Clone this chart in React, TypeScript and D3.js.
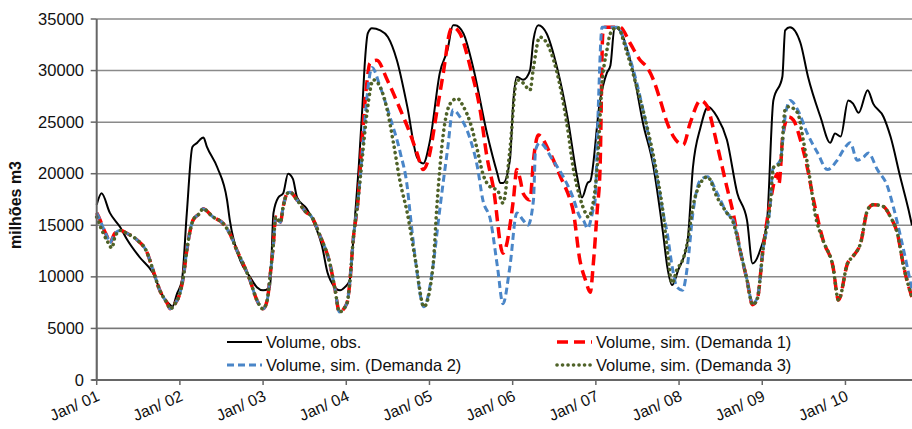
import React from "react";
import * as d3 from "d3";

// months since Jan 2001 -> volume (milhões m3)
const obsData: [number, number][] = [
  [0,17000],[0.7,18100],[1.9,16200],[3.4,14800],[4.4,13600],[6.2,11900],[8.1,10400],[9.6,8050],[10.6,7270],[10.9,7100],
  [11.6,8400],[12.3,9700],[13.0,16200],[13.8,22600],[14.5,23000],[14.9,23300],[15.4,23500],[15.9,22600],[17.4,20600],[18.8,17450],
  [19.2,15500],[20.7,11600],[22.1,10000],[23.1,9000],[24.0,8700],[25.0,9000],[25.5,16200],[26.2,17700],[26.9,18100],[27.6,20000],
  [28.3,19500],[28.9,17700],[30.3,16600],[31.5,15000],[32.5,13000],[33.3,10400],[33.7,9700],[35.1,8700],[35.8,9000],[36.5,9700],
  [36.9,12600],[37.3,16200],[37.8,20700],[38.3,26200],[38.7,31000],[39.1,33600],[39.7,34100],[40.9,33900],[42.0,33250],[43.3,31000],
  [44.8,26500],[46.2,21600],[47.1,21000],[48.1,23300],[49.5,29800],[50.6,32000],[51.4,34400],[51.7,34400],[52.9,33600],[54.3,30300],
  [56.3,23900],[57.8,20000],[58.2,19100],[58.6,19100],[59.6,21300],[60.1,27100],[60.6,29400],[61.5,29100],[62.5,30000],[63.0,33000],
  [63.7,34400],[64.9,33600],[66.4,30300],[67.9,25500],[69.3,19700],[70.0,17700],[70.8,19100],[71.2,19300],[72.6,27100],[73.6,29800],
  [74.1,30500],[74.7,34200],[75.3,34000],[77.4,29800],[78.8,24900],[80.3,20700],[81.3,16200],[81.7,14200],[82.3,11000],[83.0,9200],
  [83.9,10700],[85.2,13300],[86.0,20600],[87.1,24500],[88.2,26500],[89.5,25500],[90.9,23300],[92.4,18100],[93.8,15500],[94.6,11300],
  [95.7,12600],[96.7,15500],[97.6,27100],[98.9,29400],[99.3,33900],[100.0,34200],[101.5,32700],[102.6,29400],[104.4,25500],[105.8,23000],
  [106.5,23900],[107.3,23600],[108.4,27100],[109.1,26800],[109.9,25900],[111.2,28100],[112.0,26800],[113.5,25500],[114.5,23600],[115.9,19700],
  [117.1,16500],[117.6,15000],
];

// shared early part of the three simulations (2001 - early 2004)
const simEarly: [number, number][] = [
  [0,16200],[0.5,15500],[0.9,14800],[1.5,13900],[1.9,13300],[2.6,14200],[3.4,14500],[4.4,14200],[5.8,13600],[7.3,12300],
  [8.1,10700],[9.1,8700],[10.2,7400],[10.6,6900],[11.3,7400],[12.0,8400],[12.5,10000],[13.0,12600],[13.9,15500],[14.9,16200],
  [15.3,16600],[16.8,15800],[18.2,15200],[19.2,14200],[20.2,12600],[21.1,11300],[22.1,9700],[23.1,7750],[24.0,6900],[24.6,7750],
  [25.0,10000],[25.5,13300],[25.8,15800],[26.5,15300],[26.9,16800],[27.5,18100],[27.9,18200],[28.9,17450],[30.3,16200],[30.8,16000],
  [32.2,14000],[33.7,11100],[34.4,8700],[35.0,6600],[36.1,7450],[36.5,9400],[37.0,13600],[37.7,17450],
];

const greenStart: [number, number][] = [
  [0,15800],[0.9,14300],[1.5,13500],[2.2,12800],[2.6,13800],
];

const sim1Later: [number, number][] = [
  [38.3,23500],[39.0,29000],[39.4,30700],[40.4,31000],[41.9,29100],[43.8,26200],[45.2,23900],[46.2,22000],[47.1,20400],[47.8,21300],
  [49.1,26200],[50.0,29800],[51.0,33900],[51.4,34200],[52.4,33600],[53.9,30300],[55.3,26200],[56.3,21600],[57.2,18700],[58.6,12300],
  [60.1,17450],[60.6,20400],[61.1,19400],[61.5,18100],[62.5,17450],[63.0,21300],[63.7,23750],[65.4,22000],[66.9,19700],[68.3,17450],
  [68.7,16500],[69.7,11600],[70.5,9700],[71.2,8500],[71.6,11000],[72.2,16500],[72.6,20400],[73.0,33600],[73.3,34200],[75.5,34200],
  [76.9,32700],[78.4,31000],[79.4,30300],[80.3,29100],[81.3,27100],[82.3,24900],[83.2,23600],[84.6,22800],[85.6,24900],[87.1,27100],
  [88.1,26500],[88.9,24500],[89.9,21600],[90.9,18700],[91.8,16200],[92.8,12600],[93.8,9700],[94.6,7300],[95.3,7900],[96.1,12600],
  [97.2,17450],[98.2,20000],[98.4,19000],[99.0,23900],[99.8,25500],[100.5,25200],[101.5,23300],[102.5,20600],[103.4,17450],[104.8,13500],
  [106.2,11000],[107.0,7750],[108.3,11300],[109.1,12000],[110.2,13300],[111.2,16500],[112.0,17000],[113.5,16800],[114.5,15800],[115.5,14200],
  [116.4,11000],[117.6,8000],
];

const sim2Later: [number, number][] = [
  [38.3,22000],[39.0,27500],[39.7,30300],[40.9,28400],[42.3,25500],[43.8,22000],[44.8,18700],[45.2,16200],[46.0,11500],[47.2,7100],
  [48.5,11000],[49.3,15500],[49.6,17150],[50.6,22300],[51.4,26200],[52.4,25500],[53.9,23300],[54.9,20700],[55.7,17450],[56.8,15500],
  [57.8,11000],[58.6,7400],[59.6,11000],[60.6,16200],[61.5,15500],[62.2,15000],[63.0,17450],[63.3,22300],[63.9,23000],[65.8,21300],
  [67.3,19700],[68.7,17700],[69.7,15800],[70.2,15500],[70.8,14700],[71.6,16500],[71.9,17450],[72.3,25500],[72.9,34200],[75.1,34200],
  [76.5,32000],[77.9,28800],[78.8,26200],[79.8,23000],[80.8,19700],[81.7,16200],[82.3,14200],[83.0,11000],[83.7,9000],[84.5,8700],
  [85.2,11000],[86.0,16200],[87.1,19400],[88.1,19700],[89.5,18100],[90.9,16200],[91.8,15500],[92.8,12600],[93.8,9700],[94.6,7400],
  [95.3,8000],[96.1,12600],[97.2,17450],[97.5,20400],[98.6,21300],[99.3,25500],[100.0,27100],[101.1,26200],[102.5,23900],[104.0,22000],
  [105.4,20400],[106.8,21300],[107.7,22300],[108.7,23000],[109.7,21300],[110.6,21600],[111.3,22000],[112.6,20400],[114.1,18700],[114.9,16800],
  [116.9,11000],[117.6,8700],
];

const sim3Later: [number, number][] = [
  [38.3,21500],[39.0,26000],[39.9,29100],[40.9,28400],[41.9,26200],[42.8,23000],[43.8,19100],[44.8,16200],[46.0,11500],[47.2,7100],
  [48.5,11000],[49.1,17150],[50.0,23900],[51.0,26800],[52.0,27300],[52.9,26500],[53.9,24900],[54.9,22300],[55.7,20000],[56.8,18700],
  [57.8,18400],[58.6,17150],[59.6,22300],[60.6,29100],[61.5,28800],[62.5,28100],[63.0,30300],[63.9,33250],[65.4,32000],[66.4,29800],
  [67.9,24500],[68.7,20700],[69.7,17700],[70.5,16200],[70.9,15800],[71.6,17150],[72.2,20700],[72.9,28800],[73.6,32000],[74.1,33600],
  [75.1,34200],[76.5,31700],[77.9,28400],[79.4,24500],[80.8,20000],[81.7,16200],[82.3,12600],[83.0,9400],[83.7,10700],[84.5,11600],
  [85.2,13300],[86.0,16800],[87.1,19100],[88.1,19700],[89.5,17700],[90.9,16200],[91.8,15300],[92.8,12600],[93.8,9700],[94.6,7300],
  [95.3,7900],[96.1,12600],[97.2,17450],[97.6,20600],[98.6,21000],[99.3,26200],[99.8,26500],[101.1,25900],[101.9,23300],[102.9,19400],
  [103.6,16200],[104.8,13500],[106.2,11000],[107.0,7750],[108.3,11300],[109.1,12000],[110.2,13300],[111.2,16500],[112.0,17000],[113.5,16800],
  [114.5,15800],[115.5,14200],[116.4,11000],[117.6,8000],
];

const yTicks = [0, 5000, 10000, 15000, 20000, 25000, 30000, 35000];
const xTickMonths = [0, 12, 24, 36, 48, 60, 72, 84, 96, 108];
const xTickLabels = ["Jan/ 01", "Jan/ 02", "Jan/ 03", "Jan/ 04", "Jan/ 05", "Jan/ 06", "Jan/ 07", "Jan/ 08", "Jan/ 09", "Jan/ 10"];
const seriesNames = [
  "Volume, obs.",
  "Volume, sim. (Demanda 1)",
  "Volume, sim. (Demanda 2)",
  "Volume, sim. (Demanda 3)",
];
const yLabel = "milhões m3";

const W = 912, H = 429;
const FONT = "Arial, 'Liberation Sans', sans-serif";

export default function App() {
  const x = d3.scaleLinear().domain([0, 117.6]).range([96.7, 912]);
  const y = d3.scaleLinear().domain([0, 35000]).range([380, 19]);
  const line = d3.line<[number, number]>()
    .x((d) => x(d[0]))
    .y((d) => y(d[1]))
    .curve(d3.curveMonotoneX);

  const sim1 = [...simEarly, ...sim1Later];
  const sim2 = [...simEarly, ...sim2Later];
  const sim3 = [...greenStart, ...simEarly.filter((d) => d[0] >= 3.4), ...sim3Later];

  const styles = [
    { color: "#000000", width: 2, dash: undefined as string | undefined, cap: "butt" },
    { color: "#FF0000", width: 3.5, dash: "11 6", cap: "butt" },
    { color: "#4A86C8", width: 3, dash: "7 4", cap: "butt" },
    { color: "#4F6228", width: 3.6, dash: "0.1 5.4", cap: "round" },
  ];
  const data = [obsData, sim1, sim2, sim3];

  const legendPos = [
    { x: 227, y: 342 },
    { x: 557, y: 342 },
    { x: 227, y: 365 },
    { x: 557, y: 365 },
  ];

  const x0 = x(0), x1 = W;
  const y0 = y(0);

  return (
    <svg width={W} height={H} style={{ position: "absolute", left: 0, top: 0, background: "#fff" }} fontFamily={FONT}>
      <rect x={0} y={0} width={W} height={H} fill="#fff" />
      {yTicks.filter((t) => t > 0).map((t) => (
        <line key={t} x1={x0} x2={x1} y1={y(t)} y2={y(t)} stroke="#8a8a8a" strokeWidth={1.5} />
      ))}
      <g>
        {data.map((d, i) => (
          <path key={i} d={line(d) || ""} fill="none" stroke={styles[i].color} strokeWidth={styles[i].width}
            strokeDasharray={styles[i].dash} strokeLinecap={styles[i].cap as any} strokeLinejoin="round" />
        ))}
      </g>
      <rect x={x0} y={y(5000)} width={x1 - x0 + 2} height={y0 - y(5000)} fill="#fff" stroke="#777" strokeWidth={1.5} />
      {legendPos.map((p, i) => (
        <g key={i}>
          <line x1={p.x} x2={p.x + 35} y1={p.y} y2={p.y} stroke={styles[i].color} strokeWidth={styles[i].width}
            strokeDasharray={styles[i].dash} strokeLinecap={styles[i].cap as any} />
          <text x={p.x + 39} y={p.y + 5.5} fontSize={16.5} fill="#111">{seriesNames[i]}</text>
        </g>
      ))}
      <line x1={x0} x2={x0} y1={y(35000)} y2={y0 + 0.5} stroke="#666" strokeWidth={2} />
      <line x1={x0 - 5} x2={x1} y1={y0} y2={y0} stroke="#666" strokeWidth={2} />
      {yTicks.map((t) => (
        <g key={t}>
          <line x1={x0 - 6} x2={x0} y1={y(t)} y2={y(t)} stroke="#666" strokeWidth={1.5} />
          <text x={84} y={y(t) + 5.5} textAnchor="end" fontSize={16.5} fill="#111">{t}</text>
        </g>
      ))}
      {xTickMonths.map((m, i) => (
        <g key={m}>
          <line x1={x(m)} x2={x(m)} y1={y0} y2={y0 + 5} stroke="#666" strokeWidth={1.5} />
          <text transform={`translate(${x(m) + 4},${400}) rotate(-24)`} textAnchor="end" fontSize={16} fill="#111">
            {xTickLabels[i]}
          </text>
        </g>
      ))}
      <text transform={`translate(21,${205}) rotate(-90)`} textAnchor="middle" fontSize={16} fontWeight="bold" fill="#111">
        {yLabel}
      </text>
    </svg>
  );
}
